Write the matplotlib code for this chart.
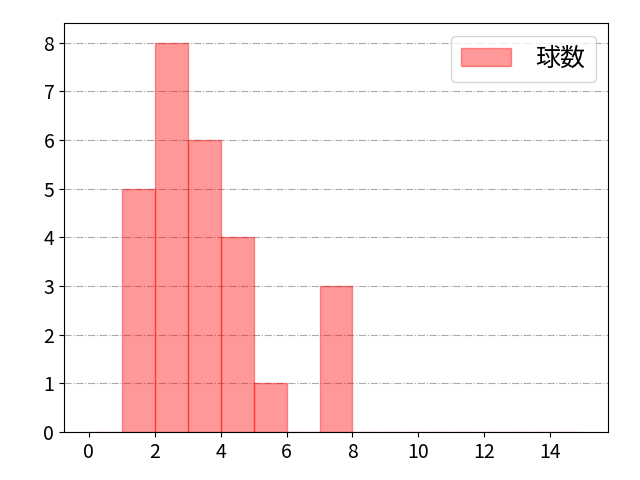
import matplotlib
matplotlib.use("Agg")
import matplotlib.pyplot as plt
import numpy as np

plt.rcParams['font.family'] = ['Noto Sans CJK JP', 'DejaVu Sans']

bin_edges = list(range(0, 16))
counts = [0, 5, 8, 6, 4, 1, 0, 3, 0, 0, 0, 0, 0, 0, 0]
label = '球数'

fig, ax = plt.subplots(figsize=(6.4, 4.8), dpi=100)
ax.hist(bin_edges[:-1], bins=bin_edges, weights=counts, color='red', alpha=0.4,
        edgecolor='red', linewidth=1, label=label)
ax.grid(axis='y', linestyle='-.', color='#aaaaaa', linewidth=0.8)
ax.set_axisbelow(True)
ax.set_xticks([0, 2, 4, 6, 8, 10, 12, 14])
ax.set_yticks(range(0, 9))
ax.tick_params(labelsize=14)
ax.legend(fontsize=18, loc='upper right', handletextpad=1.0)
fig.subplots_adjust(left=0.1, right=0.95, top=0.952, bottom=0.1)
fig.savefig('out.png')
